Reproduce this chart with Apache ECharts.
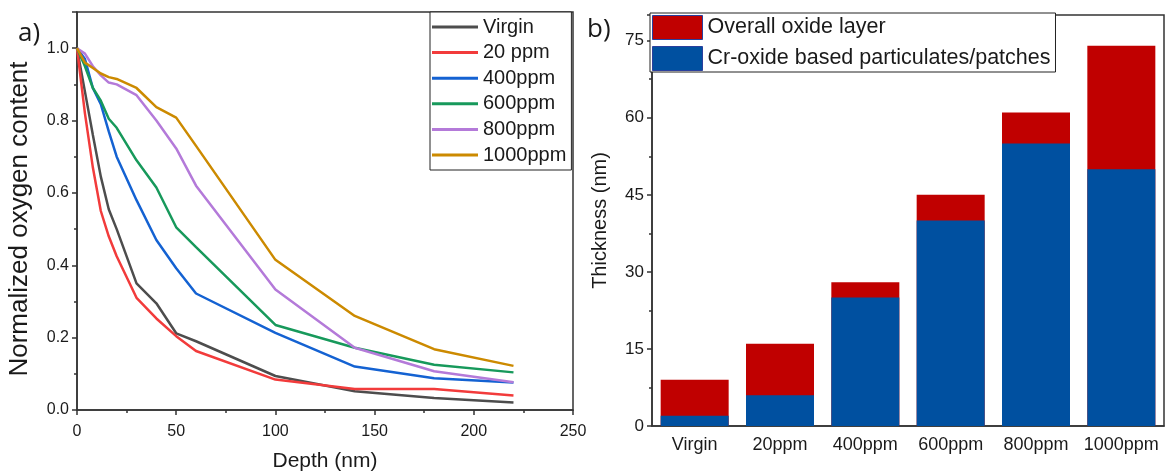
<!DOCTYPE html>
<html lang="en">
<head>
<meta charset="utf-8">
<title>oxide</title>
<script src="https://cdn.jsdelivr.net/npm/echarts@6/dist/echarts.min.js"></script>
<style>
  html, body { margin: 0; padding: 0; background: #fff; }
  #chart { width: 1171px; height: 474px; }
</style>
</head>
<body>
<div id="chart"></div>
<script>
// panel a) depth profiles
var depth = [0, 4, 8, 12, 16, 20, 30, 40, 50, 60, 100, 140, 180, 220];
var virgin  = [1.0, 0.88, 0.76, 0.645, 0.555, 0.50, 0.35, 0.295, 0.212, 0.19, 0.094, 0.052, 0.033, 0.021];
var ppm20   = [1.0, 0.82, 0.67, 0.55, 0.48, 0.425, 0.31, 0.253, 0.204, 0.163, 0.084, 0.058, 0.058, 0.04];
var ppm400  = [1.0, 0.97, 0.89, 0.845, 0.77, 0.70, 0.58, 0.47, 0.392, 0.322, 0.213, 0.12, 0.088, 0.076];
var ppm600  = [1.0, 0.95, 0.89, 0.855, 0.805, 0.78, 0.69, 0.615, 0.505, 0.45, 0.235, 0.172, 0.125, 0.104];
var ppm800  = [1.0, 0.985, 0.95, 0.925, 0.905, 0.90, 0.87, 0.80, 0.723, 0.62, 0.333, 0.172, 0.107, 0.077];
var ppm1000 = [1.0, 0.96, 0.945, 0.93, 0.92, 0.915, 0.89, 0.837, 0.808, 0.73, 0.415, 0.26, 0.168, 0.122];

var lineNames = ['Virgin', '20 ppm', '400ppm', '600ppm', '800ppm', '1000ppm'];
var lineData = [virgin, ppm20, ppm400, ppm600, ppm800, ppm1000];
var lineColors = ['#4d4d4d', '#f23b3b', '#1462d2', '#17995b', '#b47ad9', '#cc8a00'];

// panel b) thickness bars
var samples = ['Virgin', '20ppm', '400ppm', '600ppm', '800ppm', '1000ppm'];
var overall = [9, 16, 28, 45, 61, 74];
var crOxide = [2, 6, 25, 40, 55, 50];

var font = 'Liberation Sans';
var ink = '#1a1a1a';
var axisCol = '#333';

function pairs(xs, ys) {
    return xs.map(function (x, i) { return [x, ys[i]]; });
}

var series = lineNames.map(function (n, i) {
    return {
        name: n, type: 'line', xAxisIndex: 0, yAxisIndex: 0,
        data: pairs(depth, lineData[i]),
        symbol: 'none',
        lineStyle: { width: 2.5, color: lineColors[i] },
        itemStyle: { color: lineColors[i] }
    };
});

series.push({
    name: 'Overall oxide layer', type: 'bar', xAxisIndex: 1, yAxisIndex: 1,
    data: overall, barWidth: 68, barGap: '-100%', z: 2,
    itemStyle: { color: '#c00000' }
});
series.push({
    name: 'Cr-oxide based particulates/patches', type: 'bar', xAxisIndex: 1, yAxisIndex: 1,
    data: crOxide, barWidth: 68, barGap: '-100%', z: 3,
    itemStyle: { color: '#0050a0' }
});

var chart = echarts.init(document.getElementById('chart'));
chart.setOption({
    animation: false,
    backgroundColor: '#fff',
    title: [
        { text: 'a)', left: 13, top: 16, textStyle: { fontFamily: 'Open Sans', fontSize: 26, fontWeight: 'normal', color: ink } },
        { text: 'b)', left: 582, top: 12, textStyle: { fontFamily: 'Open Sans', fontSize: 26, fontWeight: 'normal', color: ink } }
    ],
    grid: [
        { left: 77, right: 598, top: 12, bottom: 64, outerBoundsMode: 'none', show: true, borderColor: axisCol, borderWidth: 1.5 },
        { left: 652, right: 7, top: 15, bottom: 48, outerBoundsMode: 'none', show: true, borderColor: axisCol, borderWidth: 1.5 }
    ],
    legend: [
        {
            data: lineNames, orient: 'vertical', left: 430, top: 12,
            icon: 'rect', itemWidth: 46, itemHeight: 3, itemGap: 3.6,
            padding: [4, 5, 4, 2],
            backgroundColor: '#fff', borderColor: '#222', borderWidth: 1,
            textStyle: { fontFamily: font, fontSize: 20, lineHeight: 22, color: ink }
        },
        {
            data: [
                { name: 'Overall oxide layer', itemStyle: { borderColor: '#2a3f9d', borderWidth: 1 } },
                { name: 'Cr-oxide based particulates/patches', itemStyle: { borderColor: '#2a3f9d', borderWidth: 1 } }
            ],
            orient: 'vertical', left: 650, top: 13,
            icon: 'rect', itemWidth: 50, itemHeight: 24, itemGap: 6,
            padding: [2, 5, 1, 2],
            backgroundColor: '#fff', borderColor: '#222', borderWidth: 1,
            textStyle: { fontFamily: font, fontSize: 21.5, lineHeight: 24, color: ink }
        }
    ],
    xAxis: [
        {
            type: 'value', gridIndex: 0, min: 0, max: 250, interval: 50,
            name: 'Depth (nm)', nameLocation: 'middle', nameGap: 41,
            nameTextStyle: { fontFamily: font, fontSize: 21, color: ink },
            axisLine: { lineStyle: { color: axisCol, width: 1.5 } },
            axisTick: { length: 5, lineStyle: { color: axisCol, width: 1.5 } },
            minorTick: { show: true, splitNumber: 2, length: 3, lineStyle: { color: axisCol, width: 1.5 } },
            axisLabel: { fontFamily: font, fontSize: 16, color: ink, margin: 14 },
            splitLine: { show: false }
        },
        {
            type: 'category', gridIndex: 1, data: samples,
            axisLine: { lineStyle: { color: axisCol, width: 1.5 } },
            axisTick: { alignWithLabel: true, length: 6, lineStyle: { color: axisCol, width: 1.5 } },
            axisLabel: { fontFamily: font, fontSize: 18, color: ink, margin: 10, interval: 0 },
            splitLine: { show: false }
        }
    ],
    yAxis: [
        {
            type: 'value', gridIndex: 0, min: 0, max: 1.1, interval: 0.2,
            name: 'Normalized oxygen content', nameLocation: 'middle', nameGap: 44,
            nameTextStyle: { fontFamily: font, fontSize: 26, color: ink, padding: [0, 16, 0, 0] },
            axisLine: { show: true, lineStyle: { color: axisCol, width: 1.5 } },
            axisTick: { show: true, length: 5, lineStyle: { color: axisCol, width: 1.5 } },
            minorTick: { show: true, splitNumber: 2, length: 3, lineStyle: { color: axisCol, width: 1.5 } },
            axisLabel: {
                fontFamily: font, fontSize: 16, color: ink, margin: 8, showMaxLabel: false,
                formatter: function (v) { return v.toFixed(1); }
            },
            splitLine: { show: false }
        },
        {
            type: 'value', gridIndex: 1, min: 0, max: 80, interval: 15,
            name: 'Thickness (nm)', nameLocation: 'middle', nameGap: 42,
            nameTextStyle: { fontFamily: font, fontSize: 20, color: ink },
            axisLine: { show: true, lineStyle: { color: axisCol, width: 1.5 } },
            axisTick: { show: true, length: 5, lineStyle: { color: axisCol, width: 1.5 } },
            minorTick: { show: true, splitNumber: 2, length: 3, lineStyle: { color: axisCol, width: 1.5 } },
            axisLabel: { fontFamily: font, fontSize: 17, color: ink, margin: 8, showMaxLabel: false },
            splitLine: { show: false }
        }
    ],
    series: series
});
</script>
</body>
</html>
